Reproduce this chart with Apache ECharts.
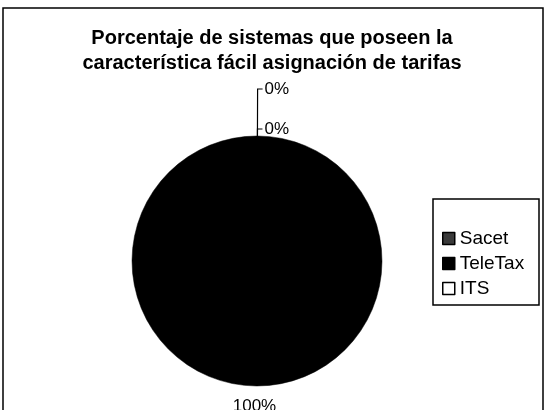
<!DOCTYPE html>
<html><head><meta charset="utf-8">
<script src="https://cdn.jsdelivr.net/npm/echarts@6/dist/echarts.min.js"></script>
<style>html,body{margin:0;padding:0;background:#fff}#c{width:546px;height:410px}</style>
</head><body><div id="c"></div>
<script>
const categories = ['Sacet', 'TeleTax', 'ITS'];
const values = [0, 100, 0];
const labels = ['0%', '100%', '0%'];

const chart = echarts.init(document.getElementById('c'));
const colors = ['#3a3a3a', '#000000', '#ffffff'];
const lineLens = [[47, 5], [20, 0], [7, 5]];
chart.setOption({
  animation: false,
  graphic: [{type: 'rect', shape: {x: 3, y: 8, width: 540, height: 410}, style: {fill: 'none', stroke: '#000', lineWidth: 1.5}, silent: true},
            {type: 'rect', shape: {x: 433, y: 199, width: 106, height: 106}, style: {fill: 'none', stroke: '#000', lineWidth: 1.5}, silent: true}],
  title: {
    text: 'Porcentaje de sistemas que poseen la\ncaracterística fácil asignación de tarifas',
    left: 267, top: 21, textAlign: 'center',
    textStyle: {fontFamily: 'Liberation Sans', fontWeight: 'bold', fontSize: 20, lineHeight: 25, color: '#000'}
  },
  legend: {
    orient: 'vertical', left: 437, top: 224, itemWidth: 12, itemHeight: 12, itemGap: 6,
    icon: 'rect',
    textStyle: {fontFamily: 'Liberation Sans', fontSize: 19, color: '#000', padding: [0, 0, 0, 0]},
    data: categories.map((c, i) => ({name: c, itemStyle: {color: colors[i], borderColor: '#000', borderWidth: 1.5}}))
  },
  series: [{
    type: 'pie', center: [257, 261], radius: 125, startAngle: 89.8, clockwise: true,
    avoidLabelOverlap: false, stillShowZeroSum: true,
    label: {show: true, position: 'outside', fontFamily: 'Liberation Sans', fontSize: 17, color: '#000', distanceToLabelLine: 2},
    labelLine: {show: true, lineStyle: {color: '#000', width: 1.2}},
    labelLayout: function (p) { return p.dataIndex === 1 ? {align: 'center'} : {}; },
    itemStyle: {borderColor: '#000', borderWidth: 0.5},
    data: categories.map((c, i) => ({
      name: c, value: values[i],
      itemStyle: {color: colors[i]},
      label: {formatter: labels[i]},
      labelLine: {show: i !== 1, length: lineLens[i][0], length2: lineLens[i][1]}
    }))
  }]
});
</script></body></html>
